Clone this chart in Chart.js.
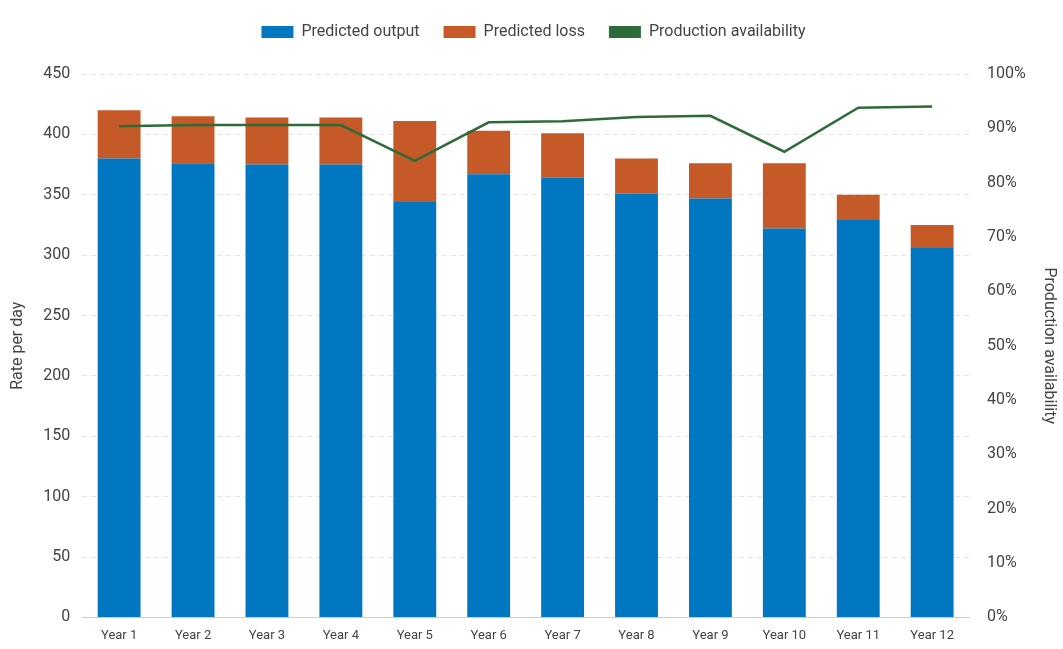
<!DOCTYPE html>
<html>
<head>
<meta charset="utf-8">
<script src="https://cdn.jsdelivr.net/npm/chart.js@4"></script>
<style>
  html, body { margin: 0; padding: 0; background: #fff; }
  #wrap { width: 1063px; height: 649px; }
</style>
</head>
<body>
<div id="wrap"><canvas id="chart"></canvas></div>
<script>
// chart values
const years = ['Year 1', 'Year 2', 'Year 3', 'Year 4', 'Year 5', 'Year 6',
  'Year 7', 'Year 8', 'Year 9', 'Year 10', 'Year 11', 'Year 12'];
const predictedOutput = [380, 376, 375, 375, 344, 367, 364, 351, 347, 322, 329, 306];
const predictedLoss = [40, 39, 39, 39, 67, 36, 37, 29, 29, 54, 21, 19];
const availability = [90.4, 90.6, 90.6, 90.6, 84.0, 91.1, 91.3, 92.1, 92.3, 85.7, 93.8, 94.0];

Chart.defaults.font.family = 'Roboto, "Noto Sans", sans-serif';
Chart.defaults.color = '#444';

// extra room under the legend
const legendGap = {
  id: 'legendGap',
  beforeInit(chart) {
    const fit = chart.legend.fit;
    chart.legend.fit = function () { fit.bind(chart.legend)(); this.height += 24; };
  }
};

const legendOrder = [1, 2, 0];

const ctx = document.getElementById('chart');
new Chart(ctx, {
  type: 'bar',
  plugins: [legendGap],
  data: {
    labels: years,
    datasets: [
      { type: 'line', label: 'Production availability', data: availability, yAxisID: 'y1',
        borderColor: '#2e6b3a', backgroundColor: '#2e6b3a', borderWidth: 2.5,
        pointRadius: 0, tension: 0, order: 0 },
      { label: 'Predicted output', data: predictedOutput, backgroundColor: '#0077c0',
        stack: 's', barPercentage: 0.58, categoryPercentage: 1, order: 1 },
      { label: 'Predicted loss', data: predictedLoss, backgroundColor: '#c55a28',
        stack: 's', barPercentage: 0.58, categoryPercentage: 1, order: 1 }
    ]
  },
  options: {
    responsive: true,
    maintainAspectRatio: false,
    animation: false,
    layout: { padding: { left: 4, right: 0, top: 0, bottom: 2 } },
    plugins: {
      legend: {
        labels: { font: { size: 16 }, boxWidth: 32, boxHeight: 12, padding: 24,
          generateLabels(chart) {
            const items = Chart.defaults.plugins.legend.labels.generateLabels(chart);
            items.forEach(it => {
              if (it.datasetIndex === 0) { it.fillStyle = '#2e6b3a'; it.lineWidth = 0; }
            });
            return legendOrder.map(i => items.find(it => it.datasetIndex === i));
          }
        }
      },
      tooltip: { enabled: false }
    },
    scales: {
      x: {
        stacked: true,
        grid: { display: false },
        border: { color: '#ccc' },
        ticks: { font: { size: 13 } }
      },
      y: {
        stacked: true, min: 0, max: 450,
        ticks: { stepSize: 50, font: { size: 16 }, padding: 12 },
        grid: { color: '#e3e3e3', drawTicks: false },
        border: { display: false, dash: [5, 4] },
        title: { display: true, text: 'Rate per day', font: { size: 16 } }
      },
      y1: {
        position: 'right', min: 0, max: 100,
        ticks: { stepSize: 10, font: { size: 16 }, padding: 10, callback: v => v + '%' },
        grid: { display: false },
        border: { display: false },
        title: { display: true, text: 'Production availability', font: { size: 16 } }
      }
    }
  }
});
</script>
</body>
</html>
